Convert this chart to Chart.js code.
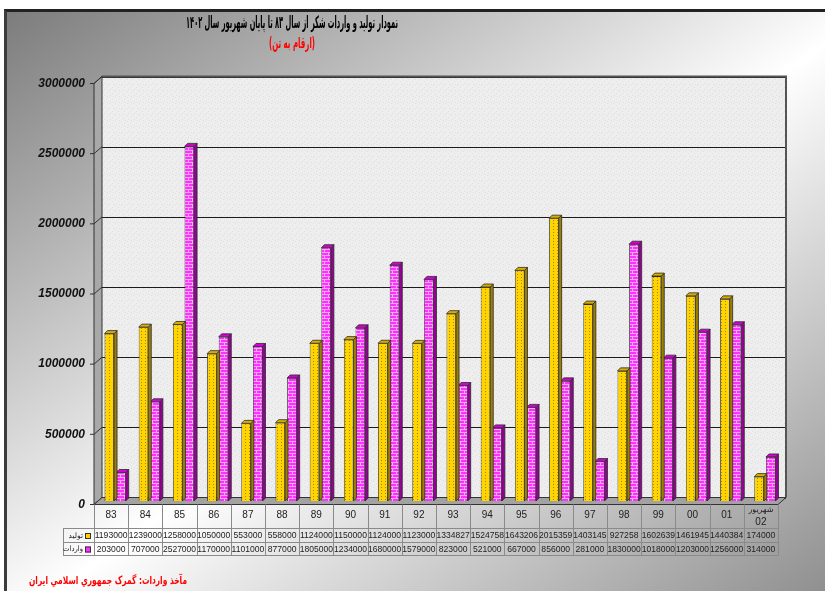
<!DOCTYPE html>
<html><head><meta charset="utf-8">
<script src="https://cdn.jsdelivr.net/npm/chart.js@4.4.0/dist/chart.umd.min.js"></script>
<style>
html,body{margin:0;padding:0;width:825px;height:591px;overflow:hidden;background:#fff;}
#bg{position:absolute;left:4px;top:9px;width:830px;height:590px;border-left:3px solid #3c3c3c;border-top:3px solid #222;background:linear-gradient(to bottom right,#7c7c7c 0%,#ffffff 52%,#8c8c8c 100%);}
#wrap{position:absolute;left:0;top:0;width:825px;height:591px;}
</style></head>
<body>
<div id="bg"></div>
<div id="wrap"><canvas id="c"></canvas></div>
<script>
// ---- data ----
const categories = ['83','84','85','86','87','88','89','90','91','92','93','94','95','96','97','98','99','00','01',['شهریور','02']];
const production = [1193000,1239000,1258000,1050000,553000,558000,1124000,1150000,1124000,1123000,1334827,1524758,1643206,2015359,1403145,927258,1602639,1461945,1440384,174000];
const imports = [203000,707000,2527000,1170000,1101000,877000,1805000,1234000,1680000,1579000,823000,521000,667000,856000,281000,1830000,1018000,1203000,1256000,314000];
const seriesNames = ['تولید','واردات'];
const yMin = 0, yMax = 3000000, yStep = 500000;
const titleText = 'نمودار تولید و واردات شکر از سال ۸۳ تا پایان شهریور سال ۱۴۰۲';
const subtitleText = '(ارقام به تن)';
const footerText = 'مآخذ واردات: گمرک جمهوري اسلامي ايران';

// ---- styles ----
const DX = 4, DY = 3.5;  // half depth of the 3D box
const BD = 3;            // bar depth
function makePattern(w, h, base, fg, pts){
  const c = document.createElement('canvas'); c.width = w; c.height = h;
  const x = c.getContext('2d'); x.fillStyle = base; x.fillRect(0,0,w,h);
  x.fillStyle = fg; pts.forEach(p => x.fillRect(p[0],p[1],p[2]||1,p[3]||1));
  return x.createPattern(c,'repeat');
}
const yellowPat = makePattern(4,3,'#ffd400','#a88400',[[1,1]]);
const magentaPat = makePattern(8,6,'#ff30ff','#ffa8ff',[[0,0,8,1],[0,3,8,1],[0,0,1,3],[4,3,1,3]]);
const wallPat = makePattern(6,6,'#eeeeee','#dedede',[[1,1],[4,3],[2,5],[5,0]]);
const sideCols = ['#9c7e00','#980098'];
const topCols = ['#d9ad00','#d400d4'];

const frame3d = {
  id: 'frame3d',
  beforeDatasetsDraw(chart){
    const ctx = chart.ctx, ys = chart.scales.y, a = chart.chartArea;
    const L = a.left, R = a.right;
    const yTop = ys.getPixelForValue(yMax), y0 = ys.getPixelForValue(0);
    ctx.save();
    ctx.fillStyle = wallPat;
    ctx.fillRect(L+DX, yTop-DY, R-L, y0-yTop);
    ctx.strokeStyle = '#1a1a1a'; ctx.lineWidth = 1;
    for(let v=yMin; v<=yMax; v+=yStep){
      const y = Math.round(ys.getPixelForValue(v)-DY)+0.5;
      ctx.beginPath(); ctx.moveTo(L+DX, y); ctx.lineTo(R+DX, y); ctx.stroke();
    }
    ctx.strokeStyle = '#555'; ctx.lineWidth = 2;
    ctx.beginPath(); ctx.moveTo(L+DX, yTop-DY); ctx.lineTo(R+DX, yTop-DY); ctx.lineTo(R+DX, y0-DY); ctx.stroke();
    ctx.fillStyle = '#a8a8a8';
    ctx.beginPath(); ctx.moveTo(L-DX, yTop+DY); ctx.lineTo(L+DX, yTop-DY); ctx.lineTo(L+DX, y0-DY); ctx.lineTo(L-DX, y0+DY); ctx.closePath(); ctx.fill();
    ctx.strokeStyle = '#333'; ctx.lineWidth = 1; ctx.stroke();
    for(let v=yMin; v<=yMax; v+=yStep){
      const y = ys.getPixelForValue(v);
      ctx.beginPath(); ctx.moveTo(L-DX, y+DY); ctx.lineTo(L+DX, y-DY); ctx.stroke();
      ctx.beginPath(); ctx.moveTo(L-DX-4, y+DY); ctx.lineTo(L-DX, y+DY); ctx.stroke();
    }
    ctx.fillStyle = '#a2a2a2';
    ctx.beginPath(); ctx.moveTo(L-DX, y0+DY); ctx.lineTo(L+DX, y0-DY); ctx.lineTo(R+DX, y0-DY); ctx.lineTo(R-DX, y0+DY); ctx.closePath(); ctx.fill();
    ctx.strokeStyle = '#333'; ctx.stroke();
    ctx.restore();
  },
  afterDatasetDraw(chart, args){
    const ctx = chart.ctx, meta = args.meta, di = args.index;
    ctx.save();
    ctx.strokeStyle = '#2a2a2a'; ctx.lineWidth = 0.8;
    meta.data.forEach(el => {
      const p = el.getProps(['x','y','base','width'], true);
      const l = p.x - p.width/2, r = p.x + p.width/2, t = p.y, b = p.base;
      ctx.fillStyle = sideCols[di];
      ctx.beginPath(); ctx.moveTo(r,t); ctx.lineTo(r+BD,t-BD); ctx.lineTo(r+BD,b-BD); ctx.lineTo(r,b); ctx.closePath(); ctx.fill(); ctx.stroke();
      ctx.fillStyle = topCols[di];
      ctx.beginPath(); ctx.moveTo(l,t); ctx.lineTo(l+BD,t-BD); ctx.lineTo(r+BD,t-BD); ctx.lineTo(r,t); ctx.closePath(); ctx.fill(); ctx.stroke();
    });
    ctx.restore();
  },
  afterDraw(chart){
    const ctx = chart.ctx, xs = chart.scales.x, ys = chart.scales.y;
    const y0 = ys.getPixelForValue(0) + DY;
    const half = (xs.getPixelForValue(1) - xs.getPixelForValue(0))/2;
    const n = categories.length;
    const rowB = [y0, 528, 542, 555];
    const legL = 63;
    ctx.save();
    ctx.strokeStyle = '#8a8a8a'; ctx.lineWidth = 1;
    const xLast = xs.getPixelForValue(n-1) - DX + half;
    [528,542,555].forEach(y => {
      ctx.beginPath(); ctx.moveTo(legL, y+0.5); ctx.lineTo(xLast, y+0.5); ctx.stroke();
    });
    for(let i=0;i<=n;i++){
      const x = Math.round(xs.getPixelForValue(0) - DX - half + i*2*half)+0.5;
      ctx.beginPath(); ctx.moveTo(x, y0); ctx.lineTo(x, 555.5); ctx.stroke();
    }
    ctx.beginPath(); ctx.moveTo(legL+0.5, 528); ctx.lineTo(legL+0.5, 555.5); ctx.stroke();
    ctx.fillStyle = '#222'; ctx.textAlign = 'center'; ctx.textBaseline = 'middle';
    categories.forEach((c,i) => {
      const x = xs.getPixelForValue(i) - DX;
      if(Array.isArray(c)){
        ctx.font = '8px "DejaVu Sans"'; ctx.fillText(c[0], x, 510);
        ctx.font = '10px "Liberation Sans", Arial'; ctx.fillText(c[1], x, 522);
      } else {
        ctx.font = '10px "Liberation Sans", Arial'; ctx.fillText(c, x, 515.5);
      }
    });
    ctx.font = '8.6px "Liberation Sans", Arial';
    [production, imports].forEach((arr, r) => {
      const yc = (rowB[r+1] + rowB[r+2]) / 2 + 1;
      arr.forEach((v,i) => ctx.fillText(String(v), xs.getPixelForValue(i) - DX, yc, 2*half-1));
    });
    const legCols = ['#ffd400','#ff30ff'];
    seriesNames.forEach((s, r) => {
      const yc = (rowB[r+1] + rowB[r+2]) / 2 + 1;
      ctx.fillStyle = legCols[r]; ctx.fillRect(85, yc-3, 6, 6);
      ctx.strokeStyle = '#333'; ctx.strokeRect(85.5, yc-2.5, 5, 5);
      ctx.fillStyle = '#222'; ctx.font = '7.5px "DejaVu Sans"';
      ctx.direction = 'rtl'; ctx.textAlign = 'right';
      ctx.fillText(s, 83, yc, 20);
      ctx.direction = 'ltr'; ctx.textAlign = 'center';
    });
    ctx.direction = 'rtl'; ctx.textAlign = 'center';
    ctx.fillStyle = '#000'; ctx.font = 'bold 17px "DejaVu Sans"';
    ctx.fillText(titleText, 292, 24, 212);
    ctx.fillStyle = '#ff0000'; ctx.font = 'bold 15px "DejaVu Sans"';
    ctx.fillText(subtitleText, 292, 44, 46);
    ctx.font = 'bold 11px "DejaVu Sans"';
    ctx.fillText(footerText, 108, 581, 158);
    ctx.restore();
  }
};

new Chart(document.getElementById('c'), {
  type: 'bar',
  data: {
    labels: categories,
    datasets: [
      { label: seriesNames[0], data: production, backgroundColor: yellowPat, borderColor: '#2a2a2a', borderWidth: 0.8 },
      { label: seriesNames[1], data: imports, backgroundColor: magentaPat, borderColor: '#2a2a2a', borderWidth: 0.8 }
    ]
  },
  options: {
    responsive: true, maintainAspectRatio: false, animation: false, events: [],
    datasets: { bar: { categoryPercentage: 0.68, barPercentage: 0.82 } },
    layout: { padding: { left: 0, right: 43, top: 80, bottom: 90 } },
    plugins: { legend: { display: false }, title: { display: false }, tooltip: { enabled: false } },
    scales: {
      x: { display: false },
      y: {
        min: yMin, max: yMax,
        afterFit(s){ s.width = 98; },
        grid: { display: false, drawTicks: false },
        border: { display: false },
        ticks: { stepSize: yStep, padding: 13, labelOffset: 3.5, color: '#111',
                 callback: v => String(v),
                 font: { family: '"Liberation Sans", Arial', size: 12, style: 'italic', weight: 'bold' } }
      }
    }
  },
  plugins: [frame3d]
});
</script>
</body></html>
